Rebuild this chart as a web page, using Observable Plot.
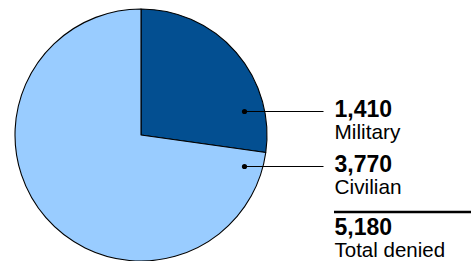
<!DOCTYPE html>
<html>
<head>
<meta charset="utf-8">
<script src="https://cdn.jsdelivr.net/npm/d3@7"></script>
<script src="https://cdn.jsdelivr.net/npm/@observablehq/plot@0.6"></script>
<style>
  html, body { margin: 0; padding: 0; background: #fff; }
  #chart svg { display: block; }
</style>
</head>
<body>
<div id="chart"></div>
<script>
// ---- data ----
const categories = ["Military", "Civilian"];
const values = [1410, 3770];
const colors = ["#034f91", "#99ccff"];
const totalLabel = "Total denied";

// ---- layout ----
const W = 471, H = 261;
const cx = 141, cy = 135, radius = 126;
const dotX = 244, lineEndX = 323, textX = 334;
const leaderY = [111, 166];
const numberBaseline = [116, 171.5];
const nameBaseline = [138, 193];
const ruleYPos = 211.5;
const totalNumBaseline = 234.8, totalNameBaseline = 256.6;

const fmt = d3.format(",");
const total = d3.sum(values);
const slices = categories.map((c, i) => ({category: c, value: values[i], color: colors[i]}));
const labels = slices.map((s, i) => ({...s, ly: leaderY[i], nb: numberBaseline[i], tb: nameBaseline[i]}));

const font = "'Liberation Sans', Arial, Helvetica, sans-serif";

function pieMark(index, scales) {
  const g = d3.create("svg:g");
  const x0 = scales.x(cx), y0 = scales.y(cy);
  const pie = d3.pie().sort(null).value(d => d.value);
  const arc = d3.arc().innerRadius(0).outerRadius(radius);
  g.attr("transform", `translate(${x0},${y0})`)
    .selectAll("path")
    .data(pie(slices))
    .join("path")
    .attr("d", arc)
    .attr("fill", d => d.data.color)
    .attr("stroke", "#000")
    .attr("stroke-width", 1.1)
    .attr("stroke-linejoin", "round");
  return g.node();
}

const chart = Plot.plot({
  width: W,
  height: H,
  margin: 0,
  x: {domain: [0, W], range: [0, W], axis: null},
  y: {domain: [0, H], range: [0, H], axis: null},
  style: {fontFamily: font, background: "#fff"},
  marks: [
    pieMark,
    Plot.link(labels, {x1: dotX, x2: lineEndX, y1: "ly", y2: "ly", stroke: "#000", strokeWidth: 1.2}),
    Plot.dot(labels, {x: dotX, y: "ly", r: 2.6, fill: "#000", stroke: null}),
    Plot.text(labels, {x: textX, y: "nb", text: d => fmt(d.value), textAnchor: "start", lineAnchor: "bottom",
      fontSize: 23, fontWeight: "bold", fill: "#000"}),
    Plot.text(labels, {x: textX, y: "tb", text: "category", textAnchor: "start", lineAnchor: "bottom",
      fontSize: 20.8, fill: "#000"}),
    Plot.ruleY([ruleYPos], {x1: textX, x2: W, stroke: "#000", strokeWidth: 2.5}),
    Plot.text([total], {x: textX, y: totalNumBaseline, text: d => fmt(d), textAnchor: "start", lineAnchor: "bottom",
      fontSize: 23, fontWeight: "bold", fill: "#000"}),
    Plot.text([totalLabel], {x: textX, y: totalNameBaseline, text: d => d, textAnchor: "start", lineAnchor: "bottom",
      fontSize: 20.5, fill: "#000"})
  ]
});
document.getElementById("chart").append(chart);
</script>
</body>
</html>
